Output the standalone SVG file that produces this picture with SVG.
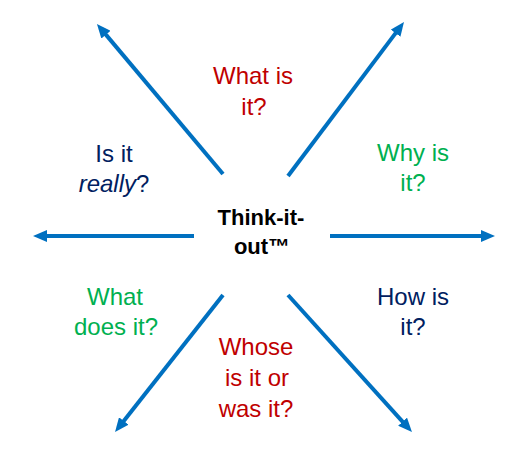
<svg xmlns="http://www.w3.org/2000/svg" width="518" height="459" viewBox="0 0 518 459">
<style>
  text { font-family: "Liberation Sans", Arial, sans-serif; font-size: 24px; text-anchor: middle; }
  .red { fill: #C00000; }
  .green { fill: #00B050; }
  .navy { fill: #002060; }
  .center { fill: #000000; font-weight: bold; font-size: 22px; }
  .arrow { stroke: #0070C0; stroke-width: 4; fill: none; marker-end: url(#head); }
</style>
<defs>
  <marker id="head" markerUnits="userSpaceOnUse" markerWidth="14" markerHeight="12" refX="6" refY="6" orient="auto">
    <path d="M0,0 L14,6 L0,12 z" fill="#0070C0"/>
  </marker>
</defs>
<rect width="518" height="459" fill="#ffffff"/>
<g id="connectors">
  <line class="arrow" x1="223" y1="174" x2="102.1" y2="30.1"/>
  <line class="arrow" x1="288" y1="176" x2="399.2" y2="28.4"/>
  <line class="arrow" x1="194" y1="236" x2="41" y2="236"/>
  <line class="arrow" x1="330" y1="236" x2="487" y2="236"/>
  <line class="arrow" x1="223" y1="295" x2="120" y2="425.7"/>
  <line class="arrow" x1="288" y1="295" x2="406.6" y2="426.1"/>
</g>
<g id="center">
  <text class="center" x="261" y="225">Think-it-</text>
  <text class="center" x="262" y="254">out™</text>
</g>
<g id="what-is-it">
  <text class="red" x="253" y="84">What is</text>
  <text class="red" x="254" y="115">it?</text>
</g>
<g id="is-it-really">
  <text class="navy" x="114" y="162">Is it</text>
  <text class="navy" x="114" y="192"><tspan font-style="italic">really</tspan>?</text>
</g>
<g id="why-is-it">
  <text class="green" x="413" y="161">Why is</text>
  <text class="green" x="413" y="191">it?</text>
</g>
<g id="what-does-it">
  <text class="green" x="115" y="305">What</text>
  <text class="green" x="116" y="335">does it?</text>
</g>
<g id="how-is-it">
  <text class="navy" x="413" y="305">How is</text>
  <text class="navy" x="413" y="335">it?</text>
</g>
<g id="whose-is-it">
  <text class="red" x="256" y="355">Whose</text>
  <text class="red" x="257" y="386">is it or</text>
  <text class="red" x="256" y="417">was it?</text>
</g>
</svg>
